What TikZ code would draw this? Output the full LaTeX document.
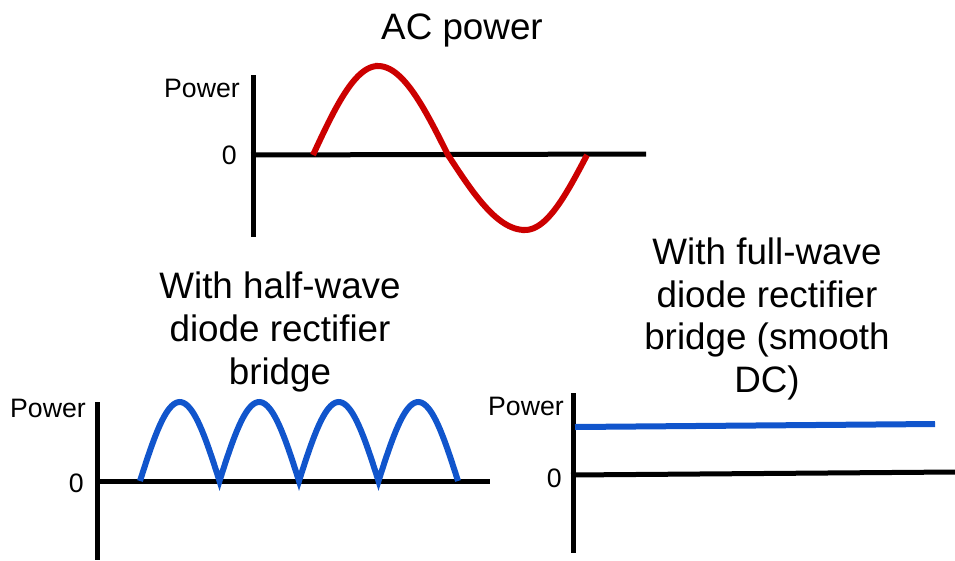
\documentclass[tikz,border=0pt]{standalone}
\usepackage{fontspec}
\setmainfont{Liberation Sans}
\definecolor{acred}{RGB}{204,0,0}
\definecolor{dcblue}{RGB}{17,85,204}
\tikzset{
  axisline/.style={line width=3.75pt},
  wave/.style={line width=4.5pt},
  heading/.style={font=\fontsize{27.6}{32.2}\selectfont, align=center},
  lbl/.style={font=\fontsize{20}{23}\selectfont, anchor=east, inner sep=0pt},
}
\begin{document}
\begin{tikzpicture}[x=0.75pt,y=-0.75pt]
  \useasboundingbox (0,0) rectangle (955,560);
  % AC power
  \node[heading] (actitle) at (462,30) {AC power};
  \draw[axisline] (253,75) -- (253,237);
  \draw[axisline] (251,155) -- (646,154);
  \node[lbl] (acpow) at (240,88) {Power};
  \node[lbl] (aczero) at (237,155) {0};
  \draw[wave,acred] plot[domain=313:378,samples=30] (\x,{155-89*sin((\x-313)*1.3846)})
    -- plot[domain=378:448,samples=30] (\x,{155-89*cos((\x-378)*1.2857)})
    -- plot[domain=448:525,samples=30] (\x,{155+75*sin((\x-448)*1.1688)})
    -- plot[domain=525:587,samples=30] (\x,{155+75*cos((\x-525)*1.4516)});
  % half-wave
  \node[heading] (halftitle) at (280,332) {With half-wave\\diode rectifier\\bridge};
  \draw[axisline] (97,402) -- (97,560);
  \draw[axisline] (95,481) -- (490,481);
  \node[lbl] (halfpow) at (86,408) {Power};
  \node[lbl] (halfzero) at (84,483) {0};
  \draw[wave,dcblue] plot[domain=140:458,samples=161] (\x,{481-79*abs(sin((\x-140)*2.2642))});
  % full-wave
  \node[heading] (fulltitle) at (767,319) {With full-wave\\diode rectifier\\bridge (smooth\\DC)};
  \draw[axisline] (573,393) -- (573,553);
  \draw[axisline] (571,475) -- (955,472);
  \node[lbl] (fullpow) at (564,406) {Power};
  \node[lbl] (fullzero) at (562,478) {0};
  \draw[wave,dcblue] (575,427) -- (935,424);
\end{tikzpicture}
\end{document}
